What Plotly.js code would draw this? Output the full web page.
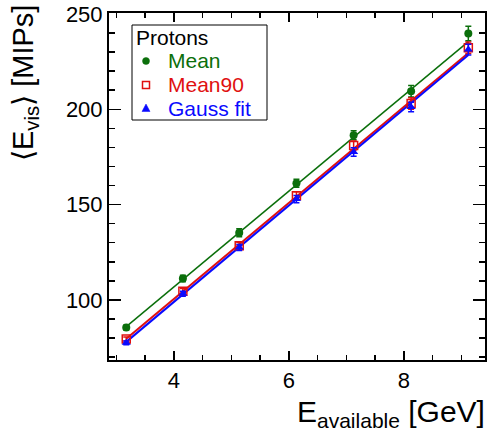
<!DOCTYPE html>
<html>
<head>
<meta charset="utf-8">
<script src="https://cdn.plot.ly/plotly-3.0.1.min.js"></script>
<style>html,body{margin:0;padding:0;background:#fff;}#chart{width:487px;height:432px;}</style>
</head>
<body>
<div id="chart"></div>
<script>
// Data
const energy = [3.17, 4.155, 5.135, 6.13, 7.125, 8.125, 9.12];
const meanVals = [85.5, 111.2, 135.2, 161.2, 186.4, 209.5, 239.8];
const meanErr = [1.2, 1.7, 2.1, 2.1, 2.4, 3.0, 3.8];
const mean90Vals = [79.5, 104.6, 128.4, 154.7, 181.0, 203.0, 232.3];
const mean90Err = [1.0, 1.4, 1.7, 2.0, 2.3, 3.0, 3.0];
const gaussVals = [77.5, 103.2, 127.5, 152.9, 177.6, 201.2, 231.3];
const gaussErr = [1.0, 1.3, 1.6, 1.9, 2.2, 2.5, 2.8];
// Linear fit lines (end points)
const fitX = [3.17, 9.12];
const meanFit = [86.0, 235.5];
const mean90Fit = [79.6, 229.5];
const gaussFit = [78.0, 228.5];
const seriesNames = ["Mean", "Mean90", "Gauss fit"];
const legendTitle = "Protons";

const cGreen = "#0b6f0b", cRed = "#e01010", cBlue = "#0a0aff";
const seriesColors = [cGreen, cRed, cBlue];
const font = "Liberation Sans, Arial, Helvetica, sans-serif";

const traces = [
  {x: fitX, y: meanFit, mode: "lines", line: {color: cGreen, width: 1.5}, showlegend: false, hoverinfo: "skip"},
  {x: fitX, y: mean90Fit, mode: "lines", line: {color: cRed, width: 2}, showlegend: false, hoverinfo: "skip"},
  {x: fitX, y: gaussFit, mode: "lines", line: {color: cBlue, width: 2}, showlegend: false, hoverinfo: "skip"},
  {x: energy, y: meanVals, mode: "markers", name: seriesNames[0], showlegend: false,
   marker: {symbol: "circle", size: 8, color: cGreen},
   error_y: {type: "data", array: meanErr, color: cGreen, thickness: 1.5, width: 3}},
  {x: energy, y: mean90Vals, mode: "markers", name: seriesNames[1], showlegend: false,
   marker: {symbol: "square-open", size: 8, color: cRed, line: {width: 1.5}},
   error_y: {type: "data", array: mean90Err, color: cRed, thickness: 1.5, width: 3}},
  {x: energy, y: gaussVals, mode: "markers", name: seriesNames[2], showlegend: false,
   marker: {symbol: "triangle-up", size: 8, color: cBlue},
   error_y: {type: "data", array: gaussErr, color: cBlue, thickness: 1.5, width: 3}}
];

// Legend drawn as box + symbols + labels (plot area: 376 x 347 px)
const PW = 376, PH = 347;
const px = v => (v - 109) / PW;       // page x pixel -> paper
const py = v => (360 - v) / PH;       // page y pixel -> paper
const legRowY = [61, 85, 108];
const legSymX = 146, legTextX = 166;

const shapes = [
  {type: "rect", xref: "paper", yref: "paper", x0: px(132), x1: px(267), y0: py(120), y1: py(25),
   line: {color: "#000", width: 1}, fillcolor: "#fff", layer: "above"},
  {type: "circle", xref: "paper", yref: "paper", xsizemode: "pixel", ysizemode: "pixel",
   xanchor: px(legSymX), yanchor: py(legRowY[0]), x0: -3.5, x1: 3.5, y0: -3.5, y1: 3.5,
   fillcolor: cGreen, line: {color: cGreen, width: 0.5}, layer: "above"},
  {type: "rect", xref: "paper", yref: "paper", xsizemode: "pixel", ysizemode: "pixel",
   xanchor: px(legSymX), yanchor: py(legRowY[1]), x0: -3.5, x1: 3.5, y0: -3.5, y1: 3.5,
   fillcolor: "rgba(0,0,0,0)", line: {color: cRed, width: 1.5}, layer: "above"},
  {type: "path", xref: "paper", yref: "paper", xsizemode: "pixel", ysizemode: "pixel",
   xanchor: px(legSymX), yanchor: py(legRowY[2]), path: "M -4,-3.5 L 4,-3.5 L 0,4 Z",
   fillcolor: cBlue, line: {color: cBlue, width: 0.5}, layer: "above"}
];

const annotations = [
  {text: "E<sub>available</sub> [GeV]", xref: "paper", yref: "paper",
   x: 1.005, y: -0.095, xanchor: "right", yanchor: "top", showarrow: false,
   font: {size: 30, family: font, color: "#000"}},
  {text: "⟨E<sub>vis</sub>⟩ [MIPs]", xref: "paper", yref: "paper",
   x: -0.225, y: 1.03, xanchor: "center", yanchor: "top", textangle: -90, showarrow: false,
   font: {size: 29, family: font, color: "#000"}},
  {text: legendTitle, xref: "paper", yref: "paper", x: px(134), y: py(37),
   xanchor: "left", yanchor: "middle", showarrow: false,
   font: {size: 21, family: font, color: "#000"}}
];
seriesNames.forEach((n, i) => annotations.push({
  text: n, xref: "paper", yref: "paper", x: px(legTextX), y: py(legRowY[i]),
  xanchor: "left", yanchor: "middle", showarrow: false,
  font: {size: 21, family: font, color: seriesColors[i]}
}));

const layout = {
  width: 487, height: 432,
  margin: {l: 109, r: 2, t: 13, b: 72, pad: 0},
  paper_bgcolor: "#fff", plot_bgcolor: "#fff",
  font: {family: font, color: "#000"},
  showlegend: false,
  xaxis: {
    range: [2.87, 9.41], showgrid: false, zeroline: false,
    showline: true, linecolor: "#000", linewidth: 2, mirror: "ticks",
    ticks: "inside", ticklen: 9, tickwidth: 1.5, tickcolor: "#000",
    tick0: 0, dtick: 2,
    minor: {ticks: "inside", ticklen: 5, dtick: 0.5, tickcolor: "#000", tickwidth: 1.5, showgrid: false},
    tickfont: {size: 22, family: font}
  },
  yaxis: {
    range: [68.5, 250.5], showgrid: false, zeroline: false,
    showline: true, linecolor: "#000", linewidth: 2, mirror: "ticks",
    ticks: "inside", ticklen: 12, tickwidth: 1.5, tickcolor: "#000",
    tick0: 0, dtick: 50,
    minor: {ticks: "inside", ticklen: 6, dtick: 10, tickcolor: "#000", tickwidth: 1.5, showgrid: false},
    tickfont: {size: 22, family: font}
  },
  shapes: shapes,
  annotations: annotations
};

Plotly.newPlot("chart", traces, layout, {staticPlot: true, displayModeBar: false});
</script>
</body>
</html>
